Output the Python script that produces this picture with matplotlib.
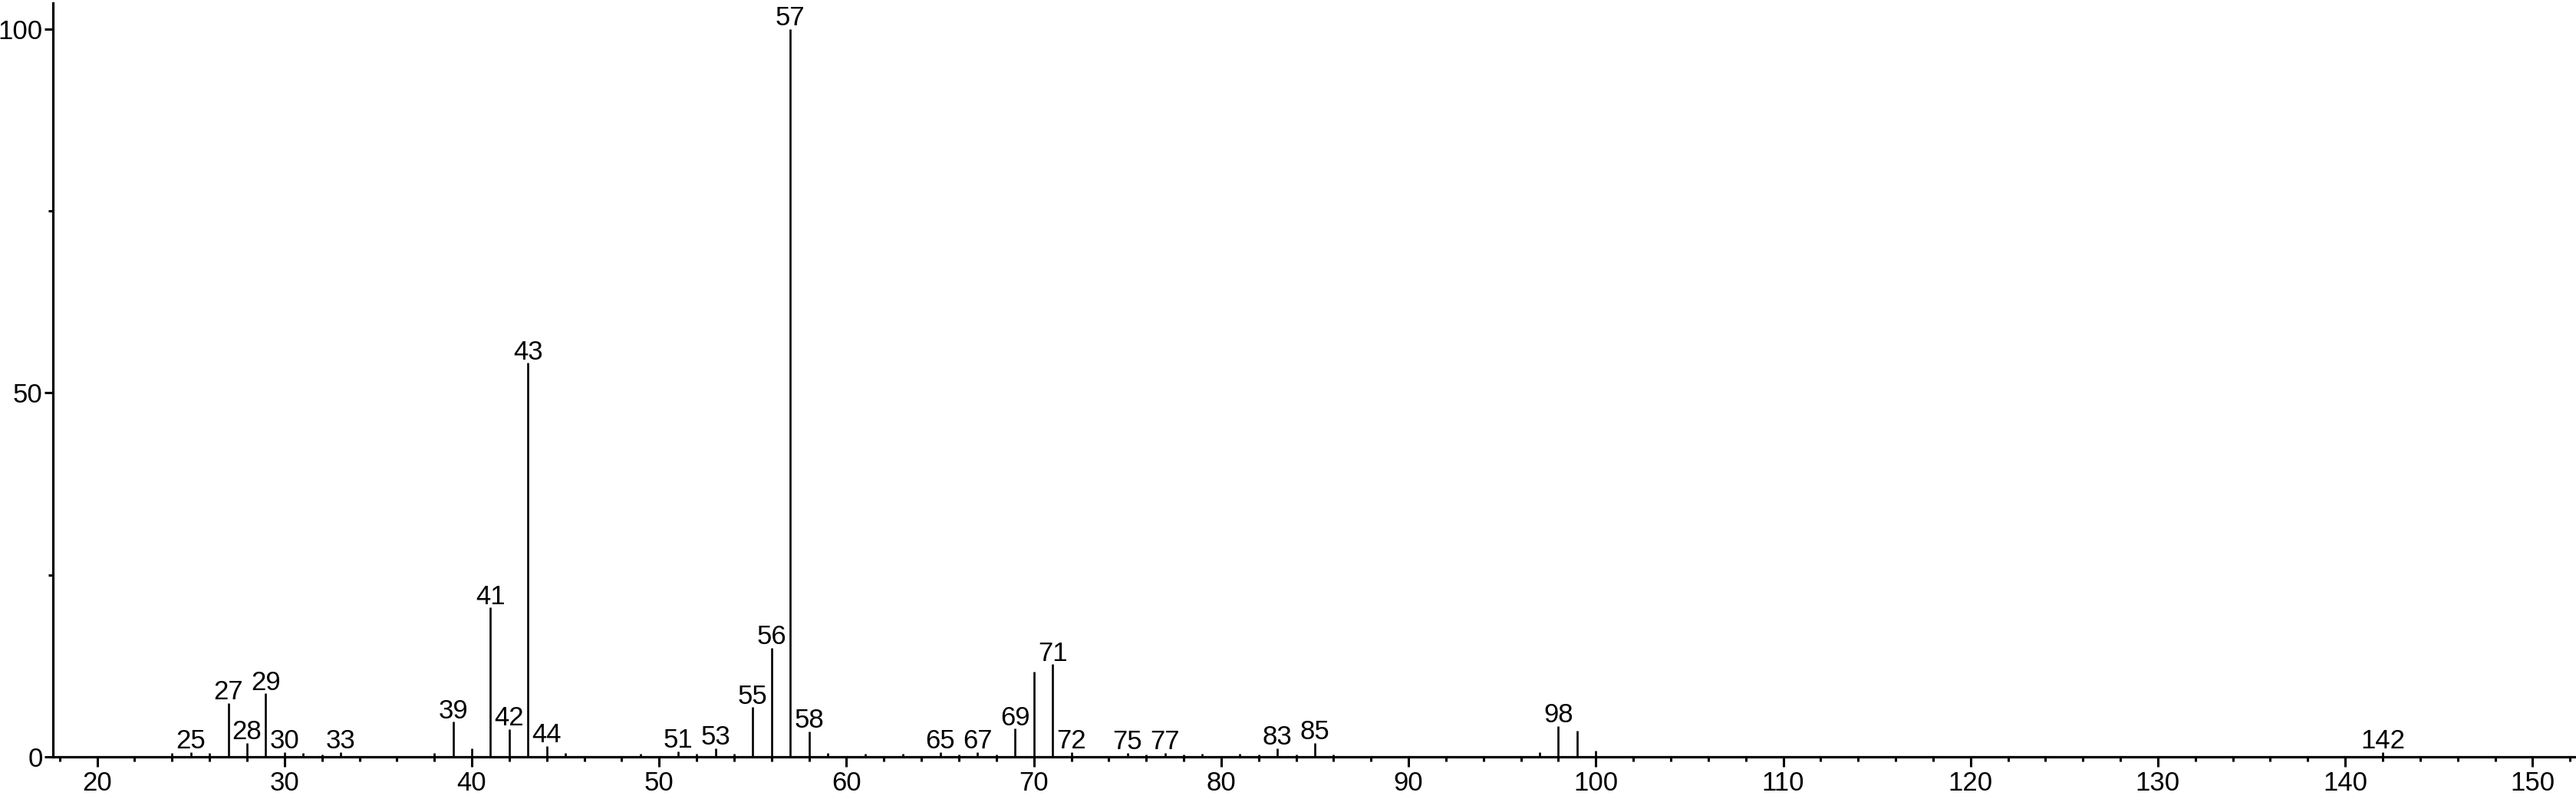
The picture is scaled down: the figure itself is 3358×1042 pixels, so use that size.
import numpy as np
from matplotlib import pyplot as plt

# mass spectrum: m/z and relative intensity (%)
mz = [24, 25, 26, 27, 28, 29, 30, 31, 32, 33, 38, 39, 40, 41, 42, 43, 44, 45,
      49, 51, 52, 53, 54, 55, 56, 57, 58, 59, 61, 63, 65, 66, 67, 68, 69, 70,
      71, 72, 75, 76, 77, 78, 79, 81, 82, 83, 84, 85, 86, 97, 98, 99, 100, 142]
intensity = [0.5, 0.6, 0.5, 7.4, 1.9, 8.7, 0.6, 0.5, 0.3, 0.6, 0.5, 4.8, 1.2, 20.5, 3.8, 54.1, 1.5, 0.5,
             0.4, 0.7, 0.4, 1.2, 0.4, 6.8, 15.0, 100.0, 3.5, 0.5, 0.4, 0.4, 0.6, 0.3, 0.6, 0.3, 3.85, 11.7,
             12.7, 0.6, 0.5, 0.3, 0.5, 0.3, 0.4, 0.4, 0.3, 1.2, 0.3, 1.9, 0.3, 0.6, 4.2, 3.6, 0.8, 0.6]
labeled = [25, 27, 28, 29, 30, 33, 39, 41, 42, 43, 44, 51, 53, 55, 56, 57, 58,
           65, 67, 69, 71, 72, 75, 77, 83, 85, 98, 142]

x_major = np.arange(20, 151, 10)
y_major = [0, 50, 100]
y_minor = [25, 75]

plt.rcParams['font.family'] = ['Liberation Sans', 'DejaVu Sans']

W, H = 3358, 1042
fig = plt.figure(figsize=(W / 100, H / 100), dpi=100)
ax = fig.add_axes([69 / W, 55 / H, 1 - 69 / W, (987 - 4) / H])

ax.vlines(mz, 0, intensity, colors='black', linewidth=1.9)
for m, v in zip(mz, intensity):
    if m in labeled:
        ax.annotate(str(m), (m, v), xytext=(0, 3.5), textcoords='offset points',
                    ha='center', va='baseline', fontsize=25, color='black')

ax.set_xlim(17.64, 152.32)
ax.set_ylim(0, 103.55)
ax.set_xticks(x_major)
ax.set_xticks(np.arange(18, 153, 2), minor=True)
ax.set_yticks(y_major)
ax.set_yticks(y_minor, minor=True)

for side in ['top', 'right']:
    ax.spines[side].set_visible(False)
for side in ['left', 'bottom']:
    ax.spines[side].set_linewidth(2.3)

ax.tick_params(axis='x', which='major', length=9, width=2.2, labelsize=25, pad=4)
ax.tick_params(axis='x', which='minor', length=4.3, width=2.2)
ax.tick_params(axis='y', which='major', length=8, width=2.2, labelsize=25, pad=1.5)
ax.tick_params(axis='y', which='minor', length=4.3, width=2.2)

fig.savefig('out.png', dpi=100)
